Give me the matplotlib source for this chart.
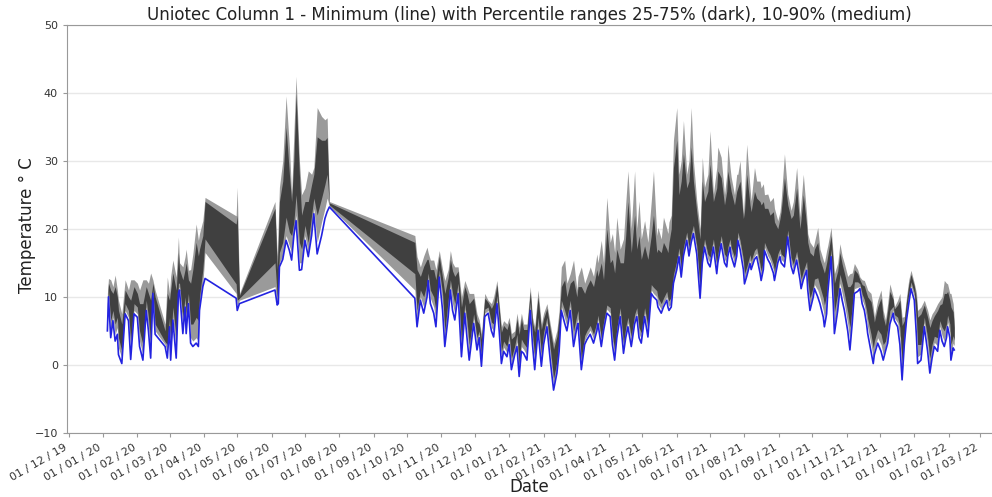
import numpy as np
import pandas as pd
import matplotlib
matplotlib.use("Agg")
import matplotlib.pyplot as plt
import matplotlib.dates as mdates

# days counted from 2019-12-01
days = [
    35, 36, 38, 40, 42, 44, 45, 48, 51, 54, 56, 59, 62, 64, 67, 70, 72, 74, 76, 78,
    87, 89, 91, 92, 94, 97, 99, 100, 103, 105, 106, 108, 110, 112, 115, 117, 118, 121, 123,
    151, 152, 154,
    186, 188, 189, 190, 193, 196, 199, 201, 203, 205, 208, 210, 213, 216, 219, 221, 224, 228, 231, 233, 235,
    312, 314, 317, 320, 323, 324, 326, 329, 331, 334,
    337, 339, 342, 344, 346, 348, 351, 354, 357, 359,
    361, 365, 368, 370, 372, 375, 378, 381, 383, 386,
    388, 390, 392, 395, 397, 399, 402, 404, 406, 408,
    410, 413, 416, 418, 420, 423, 426, 428, 431, 434,
    437, 440, 442, 444, 447, 449, 452, 455, 458, 459,
    462, 465, 467, 470, 473, 476, 477, 480, 482, 485,
    488, 490, 492, 494, 497, 500, 502, 504, 507, 510,
    512, 514, 516, 519, 522, 525, 527, 530, 531, 534,
    536, 539, 540, 541,
    543, 545, 548, 550, 552, 554, 557, 559, 561, 563,
    566, 569, 571, 573, 576, 578, 581, 584, 585, 588,
    591, 593, 594, 596, 597, 600, 602, 603, 605, 608,
    609, 611, 614, 615, 618, 620, 623, 624, 626, 627,
    630, 632, 635, 636, 639, 641, 642, 645, 648, 651,
    653, 656, 659, 660, 662, 665, 666, 668, 671, 672,
    675, 677, 680, 681, 683, 684, 687, 689, 690, 693,
    695, 697, 699, 702, 704, 706, 708, 711, 713, 715,
    717, 719, 720, 723, 725, 726, 729, 732, 734, 736,
    738, 740, 743, 744, 747, 749, 751, 753, 755, 757,
    759, 762, 764, 765, 768, 771, 774, 776, 778, 780,
    783, 785, 787, 789, 791, 792, 794, 795, 797, 798,
]

t_min = [
    5.0, 10.0, 4.0, 6.5, 3.5, 4.5, 1.5, 0.2, 7.5, 6.5, 0.8, 7.5, 7.0, 2.7, 0.7, 8.0, 5.0, 1.0, 10.5, 4.5,
    2.7, 1.0, 5.6, 0.7, 6.6, 1.0, 10.5, 11.0, 4.6, 8.5, 4.6, 9.0, 3.2, 2.7, 3.2, 2.7, 8.0, 11.5, 12.7,
    9.8, 8.0, 9.0,
    11.0, 8.8, 9.0, 14.4, 15.5, 18.3, 16.8, 15.4, 19.0, 21.2, 13.9, 14.0, 18.3, 15.9, 19.0, 22.2, 16.3, 19.0, 21.5, 22.5, 23.2,
    9.8, 5.6, 9.5, 7.6, 10.0, 12.4, 9.0, 7.6, 5.6, 12.9,
    8.0, 2.7, 7.0, 11.0, 8.0, 6.6, 10.5, 1.2, 7.6, 4.0,
    0.7, 6.1, 2.2, 4.0, -0.2, 7.1, 7.6, 5.0, 4.1, 9.0,
    5.0, 0.2, 2.0, 1.2, 3.0, -0.7, 1.5, 2.7, -1.7, 2.0,
    1.7, 0.7, 8.0, 3.0, -0.7, 5.1, -0.2, 3.0, 5.6, 0.7,
    -3.7, -1.2, 2.0, 8.0, 6.1, 5.0, 8.0, 2.7, 5.5, 6.1,
    -0.7, 3.0, 3.7, 4.5, 3.2, 5.0, 6.1, 2.7, 5.0, 7.6,
    7.1, 3.0, 0.7, 4.0, 7.1, 1.7, 4.0, 5.6, 2.7, 6.0,
    7.1, 4.0, 3.2, 7.1, 4.1, 10.5, 10.0, 9.5, 8.5, 7.6,
    8.5, 9.5, 8.5, 8.0,
    8.5, 12.0, 14.0, 15.9, 12.9, 16.0, 18.3, 16.0, 18.0, 19.3,
    16.3, 9.8, 15.0, 17.3, 15.0, 14.4, 17.3, 13.4, 15.0, 17.8,
    15.0, 14.4, 16.0, 17.3, 16.0, 14.4, 16.0, 18.3, 17.0, 14.0,
    11.9, 13.0, 14.9, 14.0, 15.5, 15.9, 13.5, 12.4, 14.0, 16.8,
    15.5, 14.9, 13.5, 12.4, 15.0, 15.9, 15.0, 14.4, 18.8, 14.5,
    13.4, 15.4, 12.5, 11.2, 12.5, 13.9, 11.0, 8.0, 10.0, 11.2,
    10.0, 9.0, 7.0, 5.6, 7.5, 10.5, 15.9, 9.0, 4.6, 8.0,
    11.2, 9.5, 8.0, 5.0, 2.2, 6.0, 10.5, 10.8, 11.2, 9.0,
    8.0, 6.0, 4.6, 2.0, 0.2, 1.5, 3.2, 2.0, 0.7, 2.0,
    3.2, 6.0, 7.6, 6.5, 5.6, 3.0, -2.2, 3.0, 6.6, 9.0,
    11.2, 9.5, 4.0, 0.2, 0.7, 5.6, 2.0, -1.2, 1.0, 2.7,
    2.0, 5.1, 3.5, 2.7, 4.0, 5.6, 4.0, 0.7, 2.5, 2.2,
]

p10 = [
    5.8, 10.5, 5.0, 7.0, 4.5, 5.5, 2.5, 1.0, 8.0, 7.0, 2.0, 8.0, 7.5, 3.5, 1.5, 8.5, 5.5, 2.0, 10.8, 5.0,
    3.0, 1.8, 6.0, 1.5, 7.0, 2.0, 11.0, 11.5, 5.5, 9.0, 5.5, 9.5, 4.0, 3.5, 4.0, 3.5, 8.5, 12.0, 16.5,
    10.5, 8.5, 9.5,
    11.5, 9.0, 10.0, 15.0, 16.0, 19.0, 17.5, 16.5, 19.5, 22.0, 15.0, 15.0, 19.0, 16.5, 20.0, 23.0, 18.0, 21.0, 23.0, 24.5, 23.3,
    11.0, 6.5, 10.0, 8.5, 10.8, 12.8, 9.8, 8.5, 6.5, 13.3,
    9.0, 3.5, 8.0, 11.5, 9.0, 7.5, 11.0, 2.0, 8.2, 5.0,
    1.5, 6.8, 3.0, 4.5, 0.5, 7.6, 8.0, 5.5, 5.0, 9.5,
    5.6, 1.0, 2.6, 1.8, 3.6, 0.0, 2.0, 3.4, -1.0, 2.7,
    2.3, 1.4, 8.5, 3.7, 0.0, 5.8, 0.5, 3.7, 6.2, 1.4,
    -3.0, -0.5, 2.7, 8.6, 6.8, 5.6, 8.6, 3.5, 6.2, 6.8,
    0.0, 3.6, 4.3, 5.1, 3.8, 5.6, 6.7, 3.3, 5.6, 8.2,
    7.6, 3.6, 1.3, 4.6, 7.6, 2.3, 4.6, 6.2, 3.3, 6.6,
    7.6, 4.6, 3.8, 7.6, 4.7, 11.0, 10.5, 10.0, 9.0, 8.2,
    9.0, 10.0, 9.0, 8.6,
    9.0, 12.5, 14.5, 16.4, 13.4, 16.5, 18.8, 16.5, 18.5, 19.8,
    16.8, 10.5, 15.5, 17.8, 15.5, 15.0, 17.8, 14.0, 15.5, 18.3,
    15.5, 15.0, 16.5, 17.8, 16.5, 15.0, 16.5, 18.8, 17.5, 14.6,
    12.5, 13.6, 15.4, 14.5, 16.0, 16.4, 14.0, 13.0, 14.5, 17.3,
    16.0, 15.4, 14.0, 13.0, 15.5, 16.4, 15.5, 15.0, 19.2, 15.0,
    14.0, 15.9, 13.0, 11.8, 13.0, 14.4, 11.6, 8.7, 10.6, 11.8,
    11.0, 10.0, 8.0, 6.8, 8.5, 11.3, 16.3, 10.0, 5.8, 9.0,
    12.0, 10.5, 9.0, 6.0, 3.5, 7.0, 11.2, 11.4, 11.5, 9.6,
    8.7, 6.8, 5.5, 3.0, 1.0, 2.2, 4.0, 3.0, 1.5, 2.6,
    4.0, 6.8, 8.0, 6.9, 6.2, 4.0, -1.2, 3.6, 7.2, 9.6,
    11.6, 10.0, 5.0, 1.2, 1.6, 6.2, 2.8, -0.4, 1.8, 3.3,
    2.8, 5.7, 4.3, 3.5, 4.8, 6.3, 4.8, 1.5, 3.2, 2.8,
]

p25 = [
    6.5, 11.0, 6.5, 8.0, 6.0, 7.0, 4.0, 2.0, 9.0, 8.0, 3.5, 9.0, 8.5, 5.0, 3.0, 9.5, 7.0, 3.5, 11.2, 6.0,
    3.4, 3.0, 7.0, 3.0, 8.5, 4.0, 12.0, 12.0, 7.0, 10.0, 7.5, 10.5, 6.0, 6.0, 7.0, 6.5, 10.0, 14.0, 18.5,
    11.9, 9.5, 9.8,
    15.0, 10.0, 12.0, 16.5, 18.0, 21.7, 19.5, 19.0, 21.0, 25.0, 18.0, 17.0, 20.5, 18.0, 22.0, 24.5, 22.0, 24.5, 26.5, 28.0, 23.5,
    13.4, 8.0, 11.0, 10.0, 12.0, 13.5, 11.0, 10.0, 8.0, 14.0,
    10.5, 5.0, 9.5, 12.5, 10.5, 9.0, 12.0, 3.5, 9.0, 6.5,
    3.0, 7.5, 4.0, 5.0, 1.5, 8.2, 8.5, 6.3, 6.0, 10.2,
    6.5, 2.0, 3.5, 2.7, 4.5, 1.0, 2.8, 4.5, 0.2, 3.8,
    3.2, 2.5, 9.3, 4.6, 1.2, 7.0, 1.8, 4.8, 7.0, 2.5,
    -2.0, 0.5, 3.8, 9.5, 8.0, 6.8, 9.5, 5.0, 7.3, 8.0,
    0.8, 4.3, 5.0, 5.8, 4.5, 6.3, 7.3, 4.0, 6.3, 8.8,
    8.4, 4.4, 2.2, 5.4, 8.4, 3.2, 5.5, 7.0, 4.2, 7.4,
    8.4, 5.5, 4.7, 8.4, 5.7, 11.8, 11.4, 10.9, 9.9, 9.0,
    9.8, 10.8, 9.8, 9.4,
    10.0, 13.3, 15.3, 17.2, 14.2, 17.3, 19.5, 17.3, 19.3, 20.5,
    17.5, 11.5, 16.3, 18.5, 16.3, 15.8, 18.5, 14.8, 16.3, 19.0,
    16.3, 15.8, 17.3, 18.5, 17.3, 15.8, 17.3, 19.5, 18.3, 15.5,
    13.4, 14.4, 16.2, 15.3, 16.8, 17.2, 14.8, 13.8, 15.3, 18.0,
    16.8, 16.2, 14.8, 13.8, 16.3, 17.1, 16.3, 15.8, 19.8, 15.8,
    14.8, 16.7, 13.8, 12.6, 13.8, 15.2, 12.5, 9.8, 11.5, 12.6,
    12.8, 11.5, 9.8, 8.8, 10.3, 12.5, 17.0, 11.5, 7.8, 10.5,
    13.3, 12.0, 10.5, 7.8, 5.5, 8.5, 12.2, 12.2, 11.9, 10.4,
    9.6, 8.0, 6.8, 4.5, 2.5, 3.5, 5.2, 4.5, 3.0, 3.5,
    5.3, 8.0, 8.6, 7.4, 7.0, 5.5, 0.5, 4.5, 8.0, 10.4,
    12.2, 10.6, 6.5, 3.0, 3.0, 7.0, 4.0, 1.0, 3.0, 4.2,
    4.0, 6.5, 5.5, 5.0, 6.0, 7.3, 6.0, 3.0, 4.3, 3.6,
]

p75 = [
    9.0, 12.0, 11.0, 10.5, 11.5, 10.0, 8.0, 6.0, 11.0, 10.0, 9.5, 11.5, 10.5, 9.0, 9.0, 11.5, 10.5, 9.5, 12.0, 10.0,
    5.0, 10.5, 9.5, 11.0, 13.5, 11.0, 16.5, 14.0, 12.5, 14.0, 15.0, 12.5, 12.0, 14.0, 18.0, 16.0, 17.0, 19.0, 24.0,
    20.7, 22.0, 10.2,
    23.0, 14.0, 18.0, 24.0, 27.0, 34.9, 28.0, 24.0, 30.0, 39.8, 28.0, 22.0, 24.0, 24.0, 26.5, 28.0, 33.5, 33.0, 33.0, 33.4, 23.8,
    18.0, 14.0, 13.0, 14.5, 15.5, 15.5, 14.0, 14.0, 12.5, 16.0,
    12.8, 10.5, 12.8, 15.5, 13.8, 13.0, 13.8, 8.5, 11.5, 10.5,
    9.0, 9.8, 6.5, 6.0, 3.8, 9.8, 9.2, 8.3, 9.0, 11.8,
    8.3, 4.8, 5.8, 5.2, 6.3, 3.8, 4.3, 6.8, 4.5, 6.8,
    5.2, 5.2, 10.8, 6.3, 4.8, 10.0, 5.2, 6.8, 8.3, 5.2,
    2.3, 4.2, 7.0, 11.5, 12.5, 10.0, 12.0, 12.5, 10.0, 11.5,
    11.5, 10.5, 11.5, 12.5, 11.5, 14.0, 13.0, 15.0, 12.5, 20.0,
    15.0, 15.5, 13.5, 17.0, 15.0, 15.0, 19.0, 24.0, 16.5, 22.0,
    17.0, 19.0, 15.5, 17.5, 15.5, 19.0, 22.0, 16.5, 17.0, 16.5,
    18.0, 17.0, 16.5, 18.0,
    20.0, 29.0, 33.0, 25.0, 27.0, 31.0, 26.0, 27.0, 32.0, 27.0,
    22.5, 18.5, 27.0, 24.0, 25.5, 29.5, 24.0, 26.0, 28.5, 27.5,
    23.5, 25.5, 28.5, 26.5, 25.5, 23.5, 25.5, 26.0, 27.0, 21.5,
    22.5, 28.0, 23.5, 22.5, 25.5, 24.5, 24.0, 23.5, 24.0, 23.0,
    23.0, 22.0, 22.5, 21.0, 20.0, 21.5, 22.5, 27.5, 23.5, 21.5,
    22.0, 26.0, 20.0, 21.5, 25.0, 20.5, 18.0, 16.5, 16.0, 17.0,
    18.0, 15.5, 14.0, 13.5, 15.0, 16.0, 19.0, 14.8, 12.0, 13.8,
    16.5, 14.8, 13.5, 11.5, 11.5, 12.0, 14.0, 13.4, 12.5, 11.8,
    11.6, 10.5, 10.0, 9.3, 7.5, 6.3, 8.5, 9.8, 7.0, 5.8,
    8.0, 10.8, 9.6, 8.2, 8.8, 9.5, 5.8, 6.5, 9.4, 11.8,
    13.3, 11.6, 9.5, 7.0, 7.5, 8.8, 7.0, 5.5, 6.5, 7.2,
    8.0, 8.8, 9.0, 10.5, 10.5, 10.8, 9.5, 8.5, 7.8, 5.5,
]

p90 = [
    10.5, 12.7, 12.5, 11.5, 13.2, 11.0, 9.5, 7.5, 12.5, 11.0, 12.5, 12.5, 12.0, 11.0, 12.5, 12.5, 12.0, 13.5, 12.5, 11.0,
    6.0, 12.9, 10.5, 13.0, 15.4, 12.9, 18.8, 15.0, 14.4, 15.9, 17.0, 13.9, 14.0, 16.3, 20.7, 18.3, 19.3, 21.2, 24.6,
    21.9, 26.1, 10.5,
    24.0, 16.0, 21.0, 26.1, 30.0, 39.5, 32.0, 25.0, 34.0, 42.4, 30.0, 25.0, 26.0, 28.5, 28.0, 29.0, 37.8, 36.5, 36.0, 36.3, 24.0,
    19.0, 15.9, 14.4, 16.0, 17.3, 16.5, 15.4, 15.4, 14.0, 16.8,
    14.0, 12.4, 14.0, 16.8, 15.0, 14.4, 14.4, 10.0, 12.4, 11.5,
    10.5, 10.5, 7.5, 6.6, 4.6, 10.5, 9.5, 9.0, 10.0, 12.4,
    9.0, 5.6, 6.5, 6.0, 7.0, 4.6, 5.0, 7.6, 5.5, 7.6,
    6.0, 6.0, 11.5, 7.0, 5.6, 11.0, 6.0, 7.6, 9.0, 6.0,
    3.2, 5.1, 8.0, 14.4, 15.4, 12.0, 13.4, 15.4, 11.0, 13.0,
    14.4, 12.0, 12.9, 14.4, 13.0, 16.3, 15.0, 18.3, 15.0, 24.6,
    18.0, 19.3, 16.5, 21.7, 17.0, 18.5, 23.7, 28.5, 20.0, 28.5,
    20.0, 24.1, 18.5, 21.2, 18.0, 24.0, 28.5, 19.0, 20.2, 18.5,
    21.7, 20.0, 19.3, 21.0,
    22.0, 33.0, 37.8, 28.0, 30.0, 35.9, 28.0, 30.0, 37.8, 30.0,
    24.1, 20.0, 30.5, 26.1, 28.0, 34.4, 25.1, 29.0, 32.0, 30.5,
    25.0, 28.0, 32.4, 29.0, 27.6, 25.0, 28.0, 28.0, 30.0, 22.2,
    25.0, 32.4, 26.0, 24.1, 29.0, 27.0, 27.0, 26.0, 26.6, 25.0,
    25.1, 24.0, 24.6, 23.0, 21.2, 22.5, 24.1, 31.0, 25.1, 22.7,
    24.0, 29.0, 21.7, 24.0, 28.0, 22.0, 19.3, 18.0, 17.3, 18.0,
    20.2, 17.0, 15.4, 15.0, 16.8, 17.5, 20.2, 16.0, 13.4, 15.0,
    17.8, 16.0, 14.9, 13.0, 13.4, 13.5, 14.9, 14.0, 12.9, 12.5,
    12.4, 11.5, 11.0, 10.5, 8.5, 7.1, 9.5, 11.0, 8.0, 6.6,
    9.0, 11.9, 10.0, 8.5, 9.5, 10.5, 7.0, 7.1, 10.0, 12.5,
    13.9, 12.0, 10.5, 8.0, 8.5, 9.5, 8.0, 6.6, 7.5, 8.0,
    9.0, 9.5, 10.0, 12.4, 12.0, 11.9, 10.5, 10.5, 9.0, 6.6,
]

for s in (t_min, p10, p25, p75, p90):
    assert len(s) == len(days), (len(s), len(days))

start = pd.Timestamp("2019-12-01")
dates = start + pd.to_timedelta(days, unit="D")

fig = plt.figure(figsize=(9.92, 4.97), dpi=100)
ax = fig.add_axes([0.0675, 0.1288, 0.9325, 0.8219])

ax.fill_between(dates, p10, p90, color="#9a9a9a", lw=0)
ax.fill_between(dates, p25, p75, color="#404040", lw=0)
ax.plot(dates, t_min, color="#2323e0", lw=1.2)

ax.set_xlim(start - pd.Timedelta(hours=34), start + pd.Timedelta(days=832))
ax.set_ylim(-10, 50)
ax.set_yticks(range(-10, 51, 10))

ax.xaxis.set_major_locator(mdates.MonthLocator())
ax.xaxis.set_major_formatter(mdates.DateFormatter("%d / %m / %y"))
plt.setp(ax.get_xticklabels(), rotation=30, ha="right")

ax.yaxis.grid(True, color="#e8e8e8", lw=1)
ax.set_axisbelow(True)
for side in ("left", "top", "bottom"):
    ax.spines[side].set_color("#999999")
ax.spines["right"].set_visible(False)
ax.tick_params(colors="#999999", labelcolor="#333333", labelsize=8, length=3)

ax.set_title("Uniotec Column 1 - Minimum (line) with Percentile ranges 25-75% (dark), 10-90% (medium)",
             fontsize=12, color="#222222", pad=3)
ax.set_xlabel("Date", fontsize=12, color="#222222", va="center")
ax.xaxis.set_label_coords(0.5, -0.132)
ax.set_ylabel("Temperature ° C", fontsize=12, color="#222222", va="center")
ax.yaxis.set_label_coords(-0.043, 0.51)

fig.savefig("out.png", dpi=100)
